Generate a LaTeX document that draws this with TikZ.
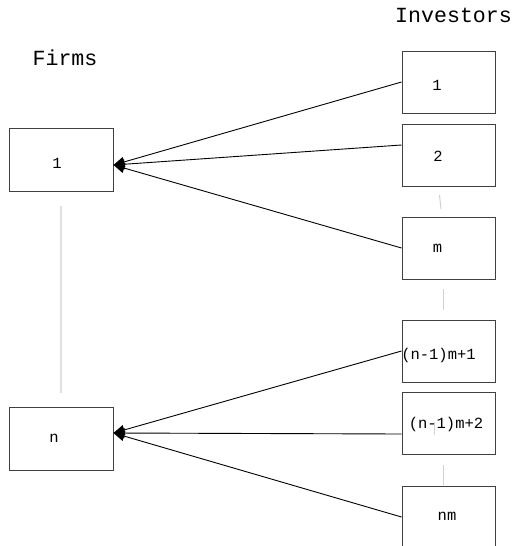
\documentclass[tikz,border=0pt]{standalone}
\usepackage{fontspec}
\setmonofont{Liberation Mono}
\usetikzlibrary{arrows.meta}
\tikzset{
  box/.style={draw=black!75, line width=1pt, inner sep=0pt, minimum width=93pt, minimum height=62pt},
  firmbox/.style={box, minimum width=104pt, minimum height=63pt},
  lbl/.style={inner sep=0pt, font=\ttfamily\fontsize{15.5}{18}\selectfont},
  ttl/.style={inner sep=0pt, font=\ttfamily\fontsize{21.6}{26}\selectfont},
  dots/.style={draw=black!18, line width=1pt},
  link/.style={draw=black, line width=0.9pt, -{Triangle[length=11pt,width=10pt]}}
}
\begin{document}
\begin{tikzpicture}[x=1pt,y=-1pt]
    \useasboundingbox (0,0) rectangle (514,546);

    \node [ttl, anchor=base] (firms) at (65,65) {Firms};
    \node [ttl, anchor=base west] (investors) at (395,23) {Investors};

    %firms
    \node [firmbox] (f1) at (61,159.5) {};
    \node [firmbox] (fn) at (61,438.5) {};
    \node [lbl] (f1t) at (57,163) {1};
    \node [lbl] (fnt) at (54,438) {n};

    %investors
    \node [box] (i1) at (448.5,82) {};
    \node [box] (i2) at (448.5,155) {};
    \node [box] (im) at (448.5,248) {};
    \node [box] (ia) at (448.5,351) {};
    \node [box] (ib) at (448.5,423.5) {};
    \node [box] (inm) at (448.5,517) {};
    \node [lbl] (i1t) at (437,85) {1};
    \node [lbl] (i2t) at (438,156) {2};
    \node [lbl] (imt) at (437.5,248) {m};
    \node [lbl] (iat) at (438.5,355) {(n-1)m+1};
    \node [lbl] (ibt) at (446,424) {(n-1)m+2};
    \node [lbl] (inmt) at (447,516) {nm};

    %gaps
    \draw [dots, line width=2pt, draw=black!12] (61,206) -- (61,393);
    \draw [dots] (439.5,195) -- (441,209);
    \draw [dots] (443.3,289) -- (443.3,310);
    \draw [dots] (443.3,465) -- (443.3,485);
    \draw [dots] (434,422) -- (434,435);

    %firm 1
    \draw [link] (i1.west) -- ([yshift=-5.5pt]f1.east);
    \draw [link] ([yshift=10pt]i2.west) -- ([yshift=-5.5pt]f1.east);
    \draw [link] (im.west) -- ([yshift=-5.5pt]f1.east);

    %firm n
    \draw [link] (ia.west) -- ([yshift=5.5pt]fn.east);
    \draw [link] ([yshift=-10.5pt]ib.west) -- ([yshift=5.5pt]fn.east);
    \draw [link] (inm.west) -- ([yshift=5.5pt]fn.east);
\end{tikzpicture}
\end{document}
